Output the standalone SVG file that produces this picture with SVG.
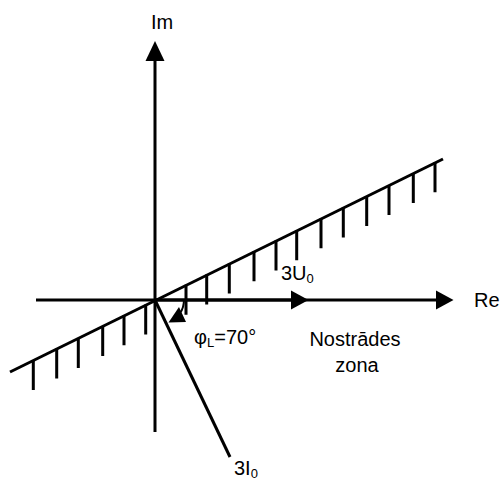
<svg xmlns="http://www.w3.org/2000/svg" width="503" height="480" viewBox="0 0 503 480">
<style>
.ln{stroke:#000;stroke-width:3;fill:none;stroke-linecap:butt}
.thin{stroke:#000;stroke-width:2;fill:none}
.ah{fill:#000;stroke:none}
text{font-family:"Liberation Sans",Arial,sans-serif;font-size:20px;fill:#000}
.sub{font-size:13px}
</style>
<rect width="503" height="480" fill="#fff"/>
<g id="connectors">
  <g id="im-axis">
    <line class="ln" x1="155" y1="432" x2="155" y2="58"/>
    <polygon class="ah" points="155,41 145.5,61 164.5,61"/>
  </g>
  <g id="re-axis">
    <line class="ln" x1="36" y1="300" x2="438" y2="300"/>
    <polygon class="ah" points="453.5,300 436,290.5 436,309.5"/>
  </g>
  <g id="u0-vector">
    <line class="ln" x1="155" y1="300" x2="293" y2="300"/>
    <polygon class="ah" points="308.5,300 291,290.5 291,309.5"/>
  </g>
  <g id="i0-vector">
    <line class="ln" x1="155" y1="300" x2="230" y2="457"/>
  </g>
  <g id="boundary">
    <line class="ln" x1="10" y1="372" x2="443" y2="159"/>
    <path class="ln" d="M33.3,360v30 M56.7,348.5v30 M78.3,337.9v30 M102.7,325.9v30 M124,315.2v30 M145.7,304.6v30 M186,284.7v30 M206.7,274.5v30 M229.3,263.4v30 M254,251.3v30 M276,240.4v30 M296.7,230.3v30 M321,218.3v30 M343.3,207.4v30 M366.7,195.9v30 M389,184.9v30 M413.3,173v30 M435,162.3v30"/>
  </g>
  <g id="angle-arc">
    <path class="thin" d="M184,299 Q184,308 180,313"/>
    <polygon class="ah" points="168.5,322.5 179,307 186,322"/>
  </g>
</g>
<g id="label-im"><text x="151" y="29">Im</text></g>
<g id="label-re"><text x="474" y="307">Re</text></g>
<g id="label-u0"><text x="281" y="280">3U<tspan class="sub" dy="3">0</tspan></text></g>
<g id="label-phi"><text x="194" y="344">φ<tspan class="sub" dy="3">L</tspan><tspan dy="-3">=70°</tspan></text></g>
<g id="label-zone"><text x="355" y="346" text-anchor="middle">Nostrādes</text><text x="357" y="372" text-anchor="middle">zona</text></g>
<g id="label-i0"><text x="234" y="475">3I<tspan class="sub" dy="3">0</tspan></text></g>
</svg>
